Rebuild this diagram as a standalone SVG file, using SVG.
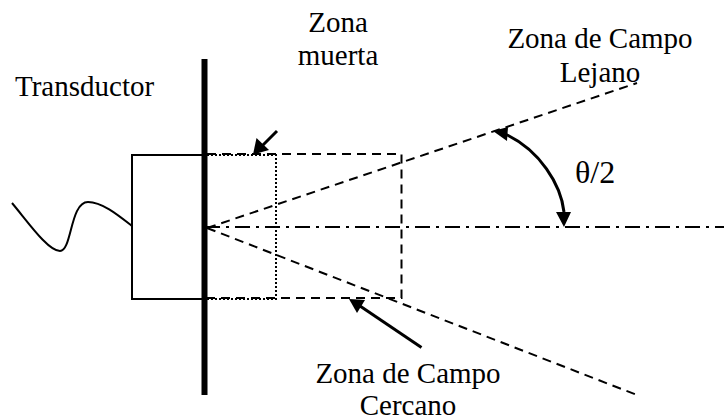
<svg xmlns="http://www.w3.org/2000/svg" width="724" height="420" viewBox="0 0 724 420">
<style>
text{font-family:"Liberation Serif","Times New Roman",serif;font-size:29px;fill:#000}
.c{text-anchor:middle}
.line{fill:none;stroke:#000;stroke-width:2}
.dash{fill:none;stroke:#000;stroke-width:2;stroke-dasharray:9 6}
.dot{fill:none;stroke:#000;stroke-width:2;stroke-dasharray:2 2}
.axis{fill:none;stroke:#000;stroke-width:2;stroke-dasharray:15 6 3 6}
.arrow{fill:none;stroke:#000;stroke-width:3}
.head{fill:#000;stroke:none}
</style>
<rect width="724" height="420" fill="#fff"/>
<g id="connectors">
<path class="dash" d="M207 228L637 83"/>
<path class="dash" d="M207 228L637 395"/>
<path class="dash" d="M207 154H401.500V298H207"/>
<path class="axis" d="M205 227H724"/>
<path class="arrow" d="M277 131L261 147"/>
<path class="head" d="M253 154.500L256.500 138L269 150Z"/>
<path class="arrow" d="M421.500 347.500L360 306"/>
<path class="head" d="M349 299L365 300L357 313Z"/>
<path class="arrow" d="M505 134C540 150 561 185 564 212"/>
<path class="head" d="M493 131L508 127L507 141Z"/>
<path class="head" d="M564 227L556 212L571 212Z"/>
</g>
<g id="transductor">
<rect class="line" x="132" y="155" width="72" height="144"/>
<path class="line" d="M12 203C28 222 48 251 60 251C72 251 70 202 88 202C102 202 118 215 132 226"/>
<text x="15" y="96">Transductor</text>
</g>
<g id="pared"><rect x="201.500" y="59" width="6" height="336" fill="#000"/></g>
<g id="zona-muerta">
<path class="dot" d="M207 155H276V299H207"/>
<text class="c" x="338" y="32">Zona</text>
<text class="c" x="338" y="65">muerta</text>
</g>
<g id="zona-lejano">
<text class="c" x="600" y="48">Zona de Campo</text>
<text class="c" x="600" y="82">Lejano</text>
</g>
<g id="zona-cercano">
<text class="c" x="408" y="383">Zona de Campo</text>
<text class="c" x="408" y="415">Cercano</text>
</g>
<g id="angulo"><text x="575" y="183" style="font-size:32px">θ/2</text></g>
</svg>
